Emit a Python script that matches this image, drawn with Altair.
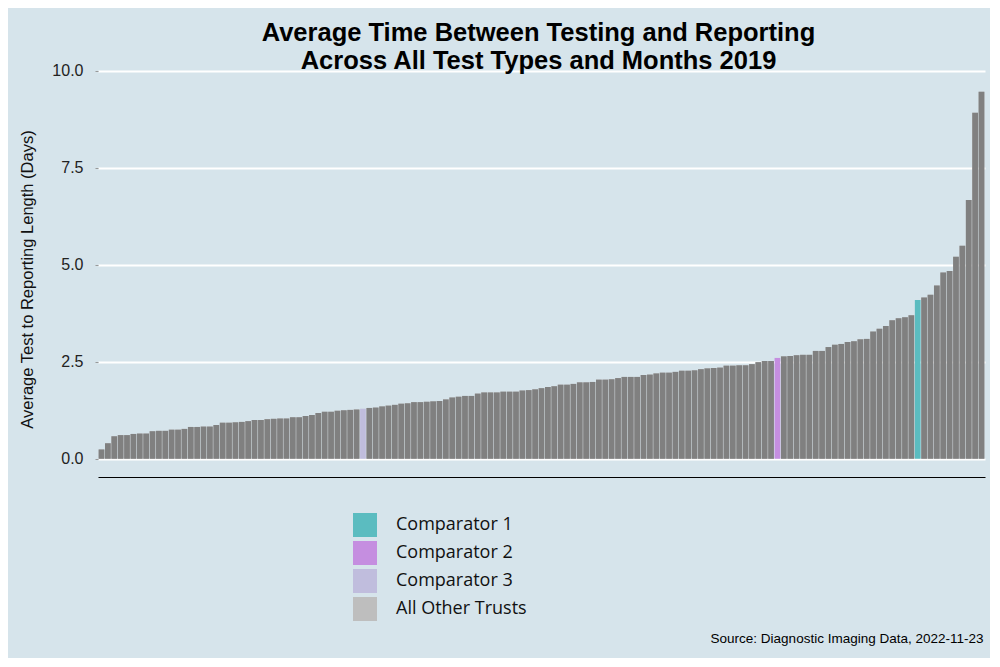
import altair as alt
import pandas as pd

values = [
    0.24, 0.40, 0.58, 0.61, 0.61, 0.64, 0.65, 0.65, 0.71, 0.72,
    0.72, 0.75, 0.75, 0.77, 0.82, 0.82, 0.83, 0.83, 0.87, 0.93,
    0.93, 0.94, 0.95, 0.97, 1.00, 1.00, 1.02, 1.03, 1.04, 1.04,
    1.07, 1.07, 1.10, 1.13, 1.18, 1.21, 1.21, 1.24, 1.25, 1.26,
    1.27, 1.29, 1.31, 1.32, 1.35, 1.37, 1.39, 1.42, 1.43, 1.46,
    1.46, 1.47, 1.48, 1.49, 1.53, 1.58, 1.60, 1.62, 1.62, 1.68,
    1.71, 1.71, 1.71, 1.73, 1.73, 1.73, 1.76, 1.77, 1.79, 1.82,
    1.85, 1.87, 1.91, 1.91, 1.93, 1.97, 1.97, 1.98, 2.04, 2.04,
    2.05, 2.08, 2.11, 2.11, 2.11, 2.16, 2.17, 2.20, 2.22, 2.22,
    2.24, 2.27, 2.27, 2.28, 2.31, 2.33, 2.34, 2.35, 2.40, 2.40,
    2.41, 2.41, 2.44, 2.49, 2.52, 2.52, 2.60, 2.64, 2.65, 2.67,
    2.68, 2.68, 2.78, 2.78, 2.88, 2.94, 2.96, 3.01, 3.03, 3.08,
    3.09, 3.28, 3.35, 3.42, 3.57, 3.62, 3.65, 3.70, 4.09, 4.16,
    4.23, 4.47, 4.80, 4.84, 5.21, 5.49, 6.67, 8.92, 9.46,
]
comparator_index = {41: "Comparator 3", 106: "Comparator 2", 128: "Comparator 1"}
legend_labels = ["Comparator 1", "Comparator 2", "Comparator 3", "All Other Trusts"]
legend_colors = ["#5bbcc0", "#c58ee0", "#c0bddd", "#bebebe"]
other_bar_color = "#808080"
y_ticks = [0, 2.5, 5, 7.5, 10]

trusts = [f"Trust {i + 1:03d}" for i in range(len(values))]
groups = [comparator_index.get(i, "All Other Trusts") for i in range(len(values))]
df = pd.DataFrame({"trust": trusts, "value": values, "group": groups})

FONT = "Liberation Sans"

x_enc = alt.X(
    "trust:N",
    sort=trusts,
    scale=alt.Scale(paddingInner=0.1, paddingOuter=0.1),
    axis=alt.Axis(
        labels=False, ticks=False, grid=False,
        domain=True, domainColor="#000000", domainWidth=1.2,
        title="Source: Diagnostic Imaging Data, 2022-11-23",
        titleAnchor="end", titleAlign="right", titleFont=FONT,
        titleFontSize=13.5, titleFontWeight="normal", titleColor="#000000",
        titlePadding=154, titleX=885,
    ),
)
y_enc = alt.Y(
    "value:Q",
    scale=alt.Scale(domain=[-0.47, 10.1], nice=False, zero=False),
    axis=alt.Axis(
        values=y_ticks, format=".1f", grid=True, gridColor="#ffffff",
        gridWidth=2, domain=False, ticks=True, tickSize=3, tickColor="#999999",
        labelFont=FONT, labelFontSize=16, labelColor="#222222", labelPadding=12,
        title="Average Test to Reporting Length (Days)", titleFont=FONT,
        titleFontSize=16.5, titleFontWeight="normal", titleColor="#111111",
        titlePadding=16, titleY=212,
    ),
)

colored = alt.Chart(df).mark_bar().encode(
    x=x_enc,
    y=y_enc,
    color=alt.Color(
        "group:N",
        scale=alt.Scale(domain=legend_labels, range=legend_colors),
        legend=alt.Legend(
            title=None, orient="none", legendX=255, legendY=446,
            symbolType="square", symbolSize=576, symbolStrokeWidth=0,
            symbolOpacity=1, rowPadding=4, labelFont="Open Sans",
            labelFontSize=18, labelColor="#111111", labelOffset=19,
        ),
    ),
)

others = alt.Chart(df).transform_filter(
    alt.datum.group == "All Other Trusts"
).mark_bar(color=other_bar_color).encode(x=x_enc, y=y_enc)

chart = alt.layer(colored, others).properties(
    width=887,
    height=410,
    autosize=alt.AutoSizeParams(type="none"),
    padding={"left": 90, "top": 59, "right": 5, "bottom": 181},
    background="#d6e4eb",
    title=alt.TitleParams(
        text=["Average Time Between Testing and Reporting",
              "Across All Test Types and Months 2019"],
        anchor="middle", font=FONT, fontSize=25.5, fontWeight="bold",
        color="#000000", lineHeight=28, offset=-12, dx=-3,
    ),
).configure_view(stroke=None)

chart.save("out.html", embed_options={"renderer": "svg", "actions": False})
